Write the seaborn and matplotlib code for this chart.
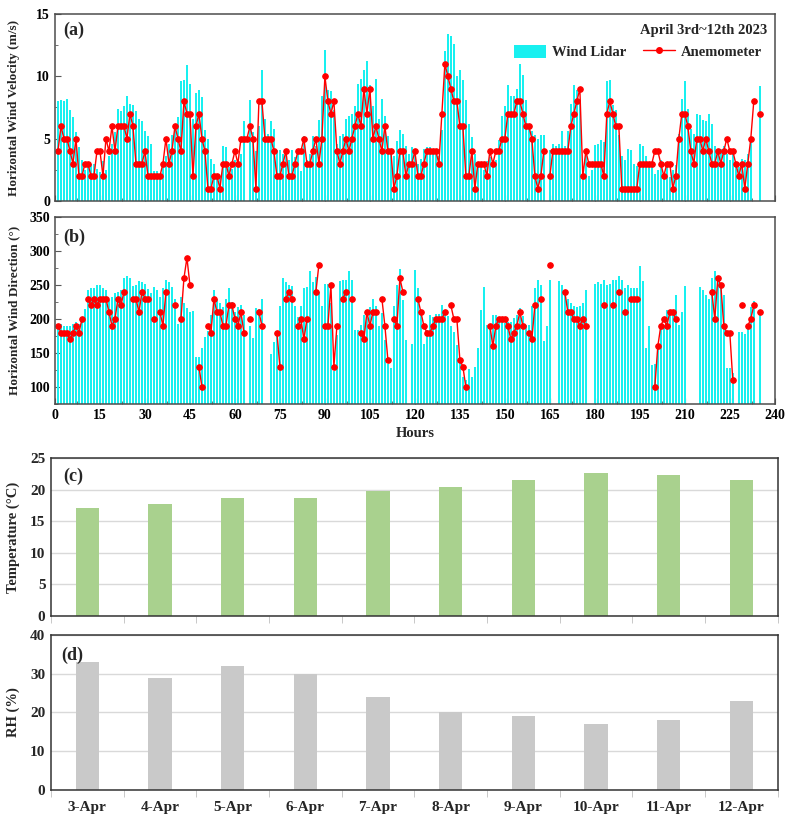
import numpy as np
import pandas as pd
import matplotlib.pyplot as plt
from matplotlib.lines import Line2D
from matplotlib.patches import Patch
from matplotlib.ticker import MultipleLocator
import seaborn as sns

nan = np.nan
hours = np.arange(1, 236)

# hourly wind speed (m/s)
lidar_speed = [
    8.0, 8.1, 8.0, 8.2, 7.3, 6.7, 5.5, 4.3, 3.3, 2.5,
    2.8, 3.0, 3.0, 2.6, 2.3, 3.2, 2.5, 3.6, 4.6, 5.5,
    7.4, 7.2, 7.6, 8.4, 7.8, 7.7, 7.2, 6.6, 6.4, 5.6,
    5.2, 4.6, 2.4, 2.4, 2.2, 2.8, 3.6, 4.6, 5.3, 6.0,
    6.7, 9.6, 9.7, 10.9, 9.4, 6.6, 8.7, 8.9, 8.3, 5.7,
    5.0, 3.4, 3.0, 1.9, 2.0, 4.4, 4.3, 2.7, 2.6, 3.3,
    3.3, 3.8, 6.4, nan, 8.1, 5.5, 4.0, 6.0, 10.5, 6.6,
    5.4, 6.4, 5.8, 4.1, 4.1, 3.8, 4.2, 3.3, 4.1, 3.5,
    4.1, 2.4, 5.2, 3.3, 3.8, 5.2, 4.4, 6.5, 8.4, 12.1,
    8.9, 8.8, 7.3, 4.6, 5.2, 5.4, 6.6, 6.8, 7.0, 7.6,
    9.4, 9.8, 10.5, 11.2, 9.3, 7.6, 9.8, 6.6, 8.2, 6.8,
    5.2, 4.1, 3.6, 4.8, 5.7, 5.4, 4.4, 3.8, 4.3, 3.9,
    3.0, 3.4, 4.2, 4.3, 4.3, 4.1, 4.0, 3.6, 5.7, 12.0,
    13.4, 13.2, 12.6, 10.0, 10.5, 9.7, 8.1, 6.2, 5.1, 3.8,
    3.0, 3.0, 2.5, 3.2, 3.5, 2.8, 3.3, 4.9, 6.8, 7.6,
    9.3, 8.4, 8.4, 9.0, 11.0, 10.1, 8.1, 6.2, 5.6, 5.3,
    5.0, 5.3, 5.3, nan, 4.1, 4.6, 4.4, 4.6, 5.6, 4.4,
    5.6, 7.8, 9.3, 8.9, 8.1, 2.2, 4.1, 2.0, 2.5, 4.5,
    4.6, 4.9, 4.7, 9.6, 9.7, 7.7, 7.3, 5.3, 3.6, 3.3,
    4.2, 4.1, 3.0, 2.8, 4.6, 4.4, 3.6, 3.0, 2.8, 2.2,
    2.5, 3.3, 2.2, 3.0, 1.9, 2.5, 2.9, 5.4, 8.2, 9.6,
    7.4, 5.8, 5.4, 7.0, 6.9, 6.5, 6.4, 7.0, 6.2, 4.4,
    4.1, 4.2, 4.4, 3.8, 3.3, 4.1, 3.0, 2.7, 3.4, 3.3,
    3.8, 4.9, nan, nan, 9.2,
]
anemo_speed = [
    4, 6, 5, 5, 4, 3, 5, 2, 2, 3,
    3, 2, 2, 4, 4, 2, 5, 4, 6, 4,
    6, 6, 6, 5, 7, 6, 3, 3, 3, 4,
    2, 2, 2, 2, 2, 3, 5, 3, 4, 6,
    5, 4, 8, 7, 7, 2, 6, 7, 5, 4,
    1, 1, 2, 2, 1, 3, 3, 2, 3, 4,
    3, 5, 5, 5, 6, 5, 1, 8, 8, 5,
    5, 5, 4, 2, 2, 3, 4, 2, 2, 3,
    4, 4, 5, 3, 3, 4, 5, 3, 5, 10,
    8, 7, 8, 4, 3, 4, 5, 4, 5, 6,
    7, 6, 9, 7, 9, 5, 6, 5, 4, 6,
    4, 4, 1, 2, 4, 4, 2, 3, 3, 4,
    2, 2, 3, 4, 4, 4, 4, 3, 7, 11,
    10, 9, 8, 8, 6, 6, 2, 2, 4, 1,
    3, 3, 3, 2, 4, 3, 4, 4, 5, 5,
    7, 7, 7, 8, 8, 7, 6, 6, 5, 2,
    1, 2, 4, nan, 2, 4, 4, 4, 4, 4,
    4, 6, 7, 8, 9, 2, 4, 3, 3, 3,
    3, 3, 2, 7, 8, 7, 6, 6, 1, 1,
    1, 1, 1, 1, 3, 3, 3, 3, 3, 4,
    4, 3, 2, 3, 3, 1, 2, 5, 7, 7,
    6, 4, 3, 5, 5, 4, 5, 4, 3, 3,
    4, 3, 4, 5, 4, 4, 3, 2, 3, 1,
    3, 5, 8, nan, 7,
]

# hourly wind direction (deg)
lidar_dir = [
    190, 193, 190, 190, 190, 193, 195, 193, 200, 214,
    242, 245, 246, 250, 250, 245, 242, 228, 232, 238,
    239, 243, 261, 263, 261, 249, 250, 256, 255, 252,
    244, 238, 247, 243, 233, 245, 258, 255, 247, 229,
    193, 233, 223, 216, 211, 212, 144, 144, 158, 174,
    183, 206, 242, 230, 223, 218, 230, 245, 225, 210,
    218, 221, 206, nan, 189, 172, 216, 215, 230, nan,
    nan, 149, 166, 175, 219, 261, 255, 250, 249, 219,
    203, 219, 245, 247, 270, 255, 262, 240, 219, 252,
    252, 223, 123, 177, 256, 258, 258, 271, 258, 184,
    184, 191, 206, 213, 218, 230, 219, 189, 209, 169,
    134, 128, 219, 250, 273, 228, 169, nan, 163, 272,
    245, 209, 163, 184, 206, 203, 208, 208, 221, 212,
    204, 189, 181, 162, 135, 115, 111, 126, 115, 130,
    157, 213, 247, 191, 189, 206, 206, 203, 201, 194,
    196, 196, 201, 206, 216, 204, 191, 191, 219, 245,
    257, 250, 167, 190, 258, nan, nan, 256, 250, 243,
    229, 223, 219, 218, 219, 223, 242, nan, nan, 252,
    255, 252, 257, 250, 252, 257, 257, 263, 257, 245,
    250, 246, 245, 245, 278, 256, 157, 189, 132, 134,
    163, 189, 191, 213, 213, 211, 235, 191, 211, 249,
    nan, nan, nan, nan, 247, 243, 235, 230, 260, 270,
    262, 245, 235, 128, 128, 120, nan, 181, 181, 178,
    191, 218, 227, nan, 209,
]
anemo_dir = [
    190, 180, 180, 180, 170, 180, 190, 180, 200, nan,
    230, 220, 230, 220, 230, 230, 230, 210, 190, 200,
    230, 220, 240, nan, nan, 230, 230, 210, 240, 230,
    230, nan, 200, nan, 210, 190, 240, nan, nan, 220,
    nan, 200, 260, 290, 250, nan, nan, 130, 100, nan,
    190, 180, 230, 210, 210, 190, 190, 220, 220, 200,
    190, 210, 180, nan, 200, nan, nan, 210, 190, nan,
    nan, nan, nan, 180, 130, nan, 230, 240, 230, nan,
    190, 200, 170, 200, nan, nan, 240, 280, nan, 190,
    190, 250, 130, 190, nan, 230, 240, nan, 230, nan,
    nan, 180, 170, 210, 190, 210, 210, nan, 230, 190,
    140, nan, 200, 190, 260, 240, nan, nan, nan, nan,
    230, 210, 190, 180, 180, 190, 200, 200, 200, 210,
    nan, 220, 200, 200, 140, 130, 100, nan, nan, nan,
    nan, nan, nan, nan, 190, 160, 190, 200, 200, 200,
    190, 170, 180, 190, 210, 190, nan, 180, 170, 220,
    nan, 230, nan, nan, 280, nan, nan, nan, nan, 240,
    210, 210, 200, 200, 190, 200, 190, nan, nan, nan,
    nan, nan, 220, nan, nan, 220, nan, 240, nan, 210,
    nan, 230, 230, 230, nan, nan, nan, nan, nan, 100,
    160, 190, 200, 190, 210, 210, 200, nan, nan, nan,
    nan, nan, nan, nan, nan, nan, nan, nan, 240, 200,
    260, 250, 190, 180, 180, 110, nan, nan, 220, nan,
    190, 200, 220, nan, 210,
]

# daily means
days = ["3-Apr", "4-Apr", "5-Apr", "6-Apr", "7-Apr",
        "8-Apr", "9-Apr", "10-Apr", "11-Apr", "12-Apr"]
temperature = [17.1, 17.8, 18.6, 18.7, 19.8, 20.4, 21.6, 22.7, 22.3, 21.5]
humidity = [33, 29, 32, 30, 24, 20, 19, 17, 18, 23]

CYAN = "#18F0F0"
RED = "#FF0000"

sns.set_style("ticks")
plt.rcParams["font.family"] = ["Liberation Serif", "DejaVu Serif"]
plt.rcParams["font.weight"] = "bold"
plt.rcParams["axes.labelweight"] = "bold"


def bars_df(vals):
    df = pd.DataFrame({"hour": hours, "val": vals})
    return df.dropna()


def line_df(vals):
    # a new segment after every gap so the line breaks there
    df = pd.DataFrame({"hour": hours, "val": vals})
    df["seg"] = df["val"].isna().cumsum()
    return df.dropna()


def hourly_panel(ax, lidar, anemo):
    sns.barplot(data=bars_df(lidar), x="hour", y="val", native_scale=True,
                width=0.7, color=CYAN, saturation=1, linewidth=0,
                errorbar=None, ax=ax)
    sns.lineplot(data=line_df(anemo), x="hour", y="val", units="seg",
                 estimator=None, color=RED, linewidth=1, marker="o",
                 markersize=4, markeredgecolor=RED, legend=False, ax=ax)
    ax.set_xlim(0, 240)
    ax.xaxis.set_major_locator(MultipleLocator(15))
    ax.xaxis.set_minor_locator(MultipleLocator(7.5))
    ax.tick_params(which="both", direction="in", colors="0.35",
                   labelcolor="black", labelsize=10)
    ax.tick_params(which="major", length=4)
    ax.tick_params(which="minor", length=2.5)
    for s in ax.spines.values():
        s.set_color("0.3")
        s.set_linewidth(1.1)


fig = plt.figure(figsize=(7.91, 8.21), dpi=100)
ax_a = fig.add_axes([0.0695, 0.7552, 0.910, 0.2278])
ax_b = fig.add_axes([0.0695, 0.5079, 0.910, 0.2278])
ax_c = fig.add_axes([0.0645, 0.2497, 0.9187, 0.1924])
ax_d = fig.add_axes([0.0645, 0.0378, 0.9187, 0.1888])

# (a) wind speed
hourly_panel(ax_a, lidar_speed, anemo_speed)
ax_a.set_ylim(0, 15)
ax_a.yaxis.set_major_locator(MultipleLocator(5))
ax_a.yaxis.set_minor_locator(MultipleLocator(2.5))
ax_a.set_xticklabels([])
ax_a.set_xlabel("")
ax_a.set_ylabel("Horizontal Wind Velocity (m/s)", fontsize=9.5)
ax_a.text(0.011, 0.914, "(a)", transform=ax_a.transAxes, fontsize=13,
          fontweight="bold", va="center")
ax_a.text(0.989, 0.909, "April 3rd~12th 2023", transform=ax_a.transAxes,
          fontsize=10.5, fontweight="bold", ha="right", va="center")
handles = [Patch(facecolor=CYAN, edgecolor="none"),
           Line2D([], [], color=RED, lw=1, marker="o", markersize=4)]
ax_a.legend(handles, ["Wind Lidar", "Anemometer"], ncol=2, frameon=False,
            loc="center right", bbox_to_anchor=(1.0, 0.797),
            prop={"size": 10.5, "weight": "bold"}, handlelength=2.2,
            handleheight=1.0, columnspacing=1.1, handletextpad=0.4)

# (b) wind direction
hourly_panel(ax_b, lidar_dir, anemo_dir)
ax_b.set_ylim(75, 350)
ax_b.yaxis.set_major_locator(MultipleLocator(50))
ax_b.yaxis.set_minor_locator(MultipleLocator(25))
ax_b.set_xticks(np.arange(0, 241, 15))
ax_b.set_xticklabels([str(h) for h in range(0, 241, 15)])
ax_b.set_xlabel("Hours", fontsize=10.5)
ax_b.set_ylabel("Horizontal Wind Direction (°)", fontsize=9.5)
ax_b.text(0.011, 0.893, "(b)", transform=ax_b.transAxes, fontsize=13,
          fontweight="bold", va="center")


def daily_panel(ax, vals, color, top, step):
    sns.barplot(x=days, y=vals, color=color, saturation=1, width=0.32,
                linewidth=0, errorbar=None, ax=ax)
    ax.set_xlim(-0.5, 9.5)
    ax.set_ylim(0, top)
    ax.set_yticks(np.arange(0, top + 0.1, step))
    ax.set_axisbelow(True)
    ax.grid(axis="y", color="#D9D9D9", linewidth=1)
    ax.set_xticks(np.arange(-0.5, 10, 1), minor=True)
    ax.tick_params(axis="x", which="major", length=0, labelsize=11, pad=8)
    ax.tick_params(axis="x", which="minor", length=5, color="#BFBFBF",
                   direction="out")
    ax.tick_params(axis="y", length=0, labelsize=11, pad=4)
    for s in ax.spines.values():
        s.set_color("0.2")
        s.set_linewidth(1.1)


# (c) temperature
daily_panel(ax_c, temperature, "#A9D18E", 25, 5)
ax_c.set_xticklabels([])
ax_c.set_ylabel("Temperature (°C)", fontsize=10.5)
ax_c.text(0.0165, 0.886, "(c)", transform=ax_c.transAxes, fontsize=13,
          fontweight="bold", va="center")

# (d) relative humidity
daily_panel(ax_d, humidity, "#C9C9C9", 40, 10)
ax_d.set_ylabel("RH (%)", fontsize=10.5)
ax_d.text(0.014, 0.871, "(d)", transform=ax_d.transAxes, fontsize=13,
          fontweight="bold", va="center")

for ax in (ax_c, ax_d):
    ax.yaxis.set_label_coords(-0.042, 0.5)
for ax in (ax_a, ax_b):
    ax.yaxis.set_label_coords(-0.048, 0.5)

fig.savefig("out.png", dpi=100)
